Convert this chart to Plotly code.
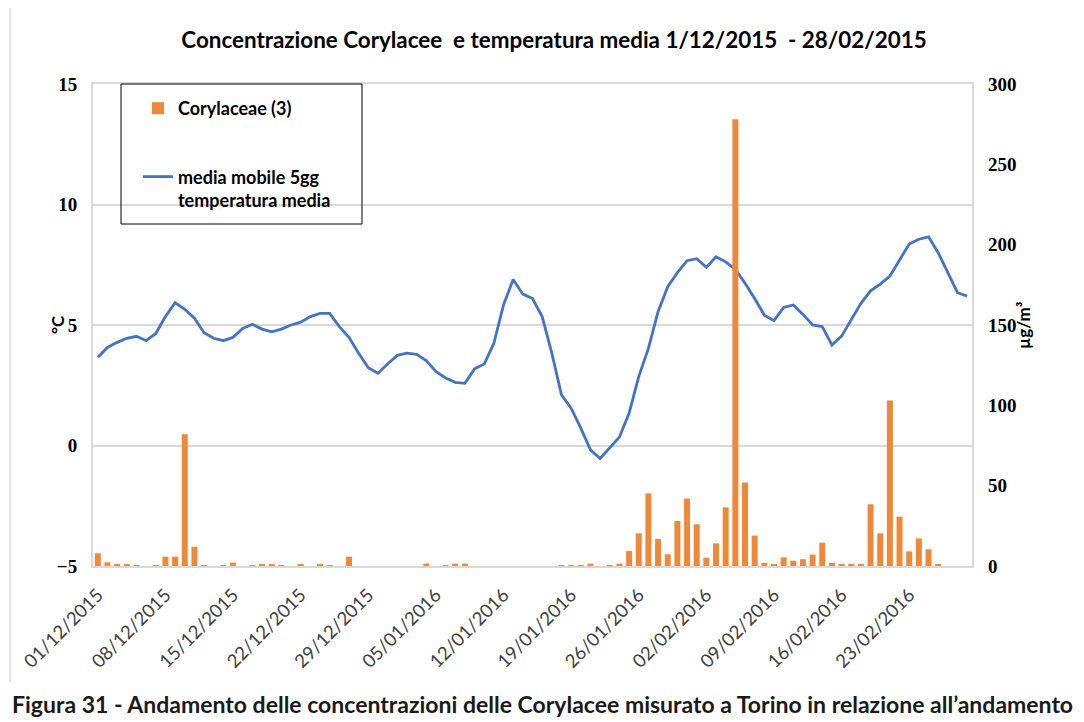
import pandas as pd
import plotly.graph_objects as go

# ---- data ----
dates = [d.strftime("%d/%m/%Y") for d in pd.date_range("2015-12-01", "2016-02-29", freq="D")]

temp_media_mobile = [
    3.66, 4.07, 4.28, 4.45, 4.53, 4.35, 4.65, 5.35, 5.93, 5.65,
    5.28, 4.68, 4.45, 4.35, 4.49, 4.86, 5.03, 4.83, 4.72, 4.83,
    5.00, 5.12, 5.35, 5.48, 5.48, 4.93, 4.49, 3.83, 3.23, 3.00,
    3.38, 3.74, 3.83, 3.78, 3.52, 3.07, 2.80, 2.62, 2.58, 3.18,
    3.38, 4.24, 5.83, 6.89, 6.28, 6.10, 5.35, 3.83, 2.10, 1.55,
    0.72, -0.18, -0.54, -0.11, 0.35, 1.34, 2.86, 4.03, 5.55, 6.59,
    7.17, 7.67, 7.75, 7.39, 7.83, 7.62, 7.31, 6.73, 6.10, 5.41,
    5.18, 5.73, 5.83, 5.44, 5.00, 4.93, 4.17, 4.54, 5.25, 5.90,
    6.42, 6.70, 7.03, 7.72, 8.36, 8.56, 8.66, 8.00, 7.14, 6.34,
    6.20,
]

corylaceae = [
    7.9, 2.3, 0.8, 0.8, 0.3, 0, 0.3, 5.8, 5.8, 82,
    12, 0.3, 0, 0.3, 2.1, 0, 0.3, 0.8, 0.8, 0.3,
    0, 0.8, 0, 0.8, 0.3, 0, 5.8, 0, 0, 0,
    0, 0, 0, 0, 1.5, 0, 0.6, 1.5, 1.5, 0,
    0, 0, 0, 0, 0, 0, 0, 0, 0.3, 0.6,
    0.6, 1.5, 0, 0.3, 1.5, 9.3, 20.3, 45.2, 16.8, 7.3,
    28, 42, 26, 5.2, 14.1, 36.5, 278, 52, 18.9, 2,
    1.2, 5.4, 3.3, 4.2, 7.1, 14.5, 2, 1.3, 1.3, 0.7,
    38.4, 20.3, 103, 30.7, 9.1, 17.2, 10.4, 1.3, 0, 0,
    0,
]

tick_labels = dates[::7]

title_text = "Concentrazione Corylacee  e temperatura media 1/12/2015  - 28/02/2015"
caption_text = "Figura 31 - Andamento delle concentrazioni delle Corylacee misurato a Torino in relazione all\u2019andamento"

# ---- figure (page has an 8px body margin) ----
OFF = 8
W, H = 1084 - OFF, 722 - OFF
L, R, T, B = 85, 112, 76, 156
pw = W - L - R
ph = H - T - B

def px_x(x):  # page pixel -> paper x
    return (x - OFF - L) / pw

def px_y(y):  # page pixel -> paper y
    return (H - B - (y - OFF)) / ph

fig = go.Figure()
fig.add_trace(go.Scatter(
    x=dates, y=temp_media_mobile, yaxis="y", mode="lines",
    name="media mobile 5gg<br>temperatura media",
    line=dict(color="#4472C4", width=2.8),
    legendgroup="t", legendrank=2,
))
fig.add_trace(go.Bar(
    x=dates, y=corylaceae, yaxis="y2",
    name="Corylaceae (3)",
    marker=dict(color="#F0883A", line=dict(width=0)),
    legendgroup="c", legendrank=1,
))

gray = "#D9D9D9"
fig.update_layout(
    width=W, height=H,
    margin=dict(l=L, r=R, t=T, b=B),
    paper_bgcolor="white", plot_bgcolor="white",
    bargap=0.38,
    font=dict(family="Lato", color="black"),
    title=dict(
        text=title_text, x=px_x(554), xref="paper", xanchor="center",
        y=1 - (40 - OFF) / H, yref="container", yanchor="middle",
        font=dict(family="Lato", size=22.4, weight="bold", color="black"),
    ),
    xaxis=dict(
        type="category", range=[-0.5, 90.5],
        tickmode="array", tickvals=tick_labels, ticktext=tick_labels,
        tickangle=-45, ticks="", showgrid=False,
        showline=True, linecolor=gray, linewidth=2, mirror=True,
        tickfont=dict(family="Lato", size=18.5, color="#404040"),
        ticklabelstandoff=9,
    ),
    yaxis=dict(
        range=[-5, 15], tickvals=[-5, 0, 5, 10, 15], ticks="",
        showgrid=True, gridcolor=gray, gridwidth=1.5, zeroline=False,
        showline=True, linecolor=gray, linewidth=2, mirror=True,
        tickfont=dict(family="Liberation Serif", size=19, weight="bold", color="black"),
        ticklabelstandoff=10,
    ),
    yaxis2=dict(
        range=[0, 300], tickvals=[0, 50, 100, 150, 200, 250, 300], ticks="",
        overlaying="y", side="right", showgrid=False, zeroline=False,
        tickfont=dict(family="Liberation Serif", size=19, weight="bold", color="black"),
        ticklabelstandoff=15,
    ),
    legend=dict(
        x=px_x(138), y=px_y(90), xanchor="left", yanchor="top",
        bgcolor="rgba(0,0,0,0)", borderwidth=0,
        traceorder="grouped", tracegroupgap=42, valign="top",
        font=dict(family="Lato", size=18, weight="bold", color="black"),
    ),
    shapes=[
        dict(type="rect", xref="paper", yref="paper",
             x0=px_x(121), x1=px_x(362), y0=px_y(224), y1=1.0,
             line=dict(color="black", width=1), fillcolor="rgba(0,0,0,0)"),
        dict(type="line", xref="paper", yref="paper",
             x0=px_x(10), x1=px_x(10), y0=px_y(682), y1=px_y(OFF),
             line=dict(color=gray, width=1.5)),
    ],
    annotations=[
        dict(text="\u00b0C", xref="paper", yref="paper", x=px_x(57), y=px_y(325),
             textangle=-90, showarrow=False, xanchor="center", yanchor="middle",
             font=dict(family="Lato", size=17, weight="bold", color="black")),
        dict(text="\u00b5g/m\u00b3", xref="paper", yref="paper", x=px_x(1023), y=px_y(325),
             textangle=-90, showarrow=False, xanchor="center", yanchor="middle",
             font=dict(family="Lato", size=17, weight="bold", color="black")),
        dict(text=caption_text, xref="paper", yref="paper", x=px_x(10), y=px_y(704),
             showarrow=False, xanchor="left", yanchor="middle",
             font=dict(family="Lato", size=23, weight="bold", color="#1a1a1a")),
    ],
)

fig.write_html("out.html")
